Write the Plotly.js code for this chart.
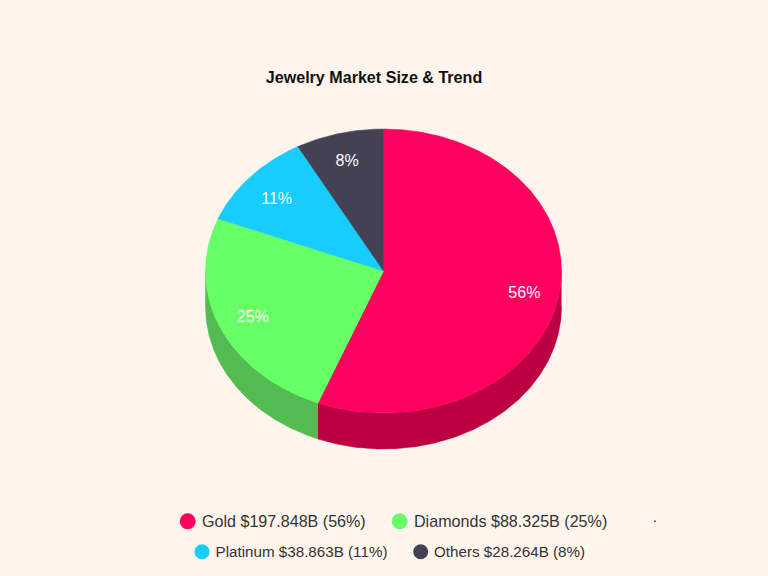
<!DOCTYPE html>
<html>
<head>
<meta charset="utf-8">
<script src="https://cdn.plot.ly/plotly-3.0.1.min.js"></script>
<style>html,body{margin:0;padding:0;background:#fff5ec;overflow:hidden}</style>
</head>
<body>
<div id="chart" style="width:768px;height:576px"></div>
<script>
// Data
const categories = ["Gold", "Diamonds", "Platinum", "Others"];
const valuesB = [197.848, 88.325, 38.863, 28.264];
const percents = [56, 25, 11, 8];
const topColors = ["#ff005f", "#66ff66", "#17ccff", "#444155"];
const wallColors = ["#bb0044", "#52bb52", "#1199bb", "#33303f"];

// Layout of the tilted pie
const cx = 383.5, cy = 271, rx = 178, ry = 142, depth = 36, labelR = 0.8;
const labelNudgeX = [1, 0, 0, -1];
const labelNudgeY = [2, 1.7, 3.7, 1];
const legendMarkerX = [187.7, 399.7, 202, 420.7];
const legendTextX = [202, 414, 215.5, 434];
const legendY = [521.3, 521.3, 551.7, 551.7];
const legendTextDy = 1.2;
const legendMarkerSizes = [16, 16, 15, 15];
const legendFontSizes = [16.1, 16.1, 15.2, 15.2];

const total = valuesB.reduce((a, b) => a + b, 0);
const rad = d => d * Math.PI / 180;
const px = (a, f = 1) => cx + rx * f * Math.sin(rad(a));
const py = (a, f = 1, dy = 0) => cy - ry * f * Math.cos(rad(a)) + dy;
function arc(a1, a2) {
  const out = [], n = Math.max(2, Math.ceil((a2 - a1) * 2));
  for (let i = 0; i <= n; i++) out.push(a1 + (a2 - a1) * i / n);
  return out;
}

const traces = [], tops = [], labelX = [], labelY = [];
let start = 0;
valuesB.forEach((v, i) => {
  const end = start + v / total * 360;
  // visible side wall: front half of the rim only
  const w1 = Math.max(start, 90), w2 = Math.min(end, 270);
  if (w2 > w1) {
    const as = arc(w1, w2), back = as.slice().reverse();
    traces.push({
      type: "scatter", mode: "lines", fill: "toself", hoverinfo: "skip", showlegend: false,
      fillcolor: wallColors[i], line: {color: wallColors[i], width: 0.5},
      x: as.map(a => px(a)).concat(back.map(a => px(a))),
      y: as.map(a => py(a)).concat(back.map(a => py(a, 1, depth)))
    });
  }
  const as = arc(start, end);
  tops.push({
    type: "scatter", mode: "lines", fill: "toself", hoverinfo: "text", showlegend: false,
    text: categories[i] + " $" + v + "B (" + percents[i] + "%)",
    fillcolor: topColors[i], line: {color: topColors[i], width: 0.5},
    x: [cx].concat(as.map(a => px(a)), [cx]),
    y: [cy].concat(as.map(a => py(a)), [cy])
  });
  const mid = (start + end) / 2;
  labelX.push(px(mid, labelR) + labelNudgeX[i]);
  labelY.push(py(mid, labelR) + labelNudgeY[i]);
  start = end;
});
traces.push(...tops);

traces.push({
  type: "scatter", mode: "text", hoverinfo: "skip", showlegend: false,
  x: labelX, y: labelY, text: percents.map(p => p + "%"), textposition: "middle center",
  textfont: {family: "Liberation Sans, Arial, sans-serif", size: 16, color: "#ffffff"}
});
traces.push({
  type: "scatter", mode: "markers", hoverinfo: "skip", showlegend: false,
  x: legendMarkerX, y: legendY,
  marker: {size: legendMarkerSizes, color: topColors, opacity: 1, line: {width: 0}}
});
traces.push({
  type: "scatter", mode: "text", hoverinfo: "skip", showlegend: false,
  x: legendTextX, y: legendY.map(y => y + legendTextDy),
  text: categories.map((c, i) => c + " $" + valuesB[i].toFixed(3) + "B (" + percents[i] + "%)"),
  textposition: "middle right",
  textfont: {family: "Liberation Sans, Arial, sans-serif", size: legendFontSizes, color: "#333333"}
});
traces.push({
  type: "scatter", mode: "markers", hoverinfo: "skip", showlegend: false,
  x: [655], y: [521.3], marker: {size: 2, color: "#4a4ad0", opacity: 1, line: {width: 0}}
});

const hidden = {visible: false, fixedrange: true};
Plotly.newPlot("chart", traces, {
  width: 768, height: 576,
  paper_bgcolor: "#fff5ec", plot_bgcolor: "#fff5ec",
  margin: {l: 0, r: 0, t: 0, b: 0},
  showlegend: false,
  xaxis: Object.assign({range: [0, 768]}, hidden),
  yaxis: Object.assign({range: [576, 0]}, hidden),
  title: {
    text: "<b>Jewelry Market Size & Trend</b>",
    font: {family: "Liberation Sans, Arial, sans-serif", size: 16.1, color: "#111111"},
    x: 374 / 768, xanchor: "center", y: 1 - 77 / 576, yanchor: "middle"
  }
}, {displayModeBar: false});
</script>
</body>
</html>
